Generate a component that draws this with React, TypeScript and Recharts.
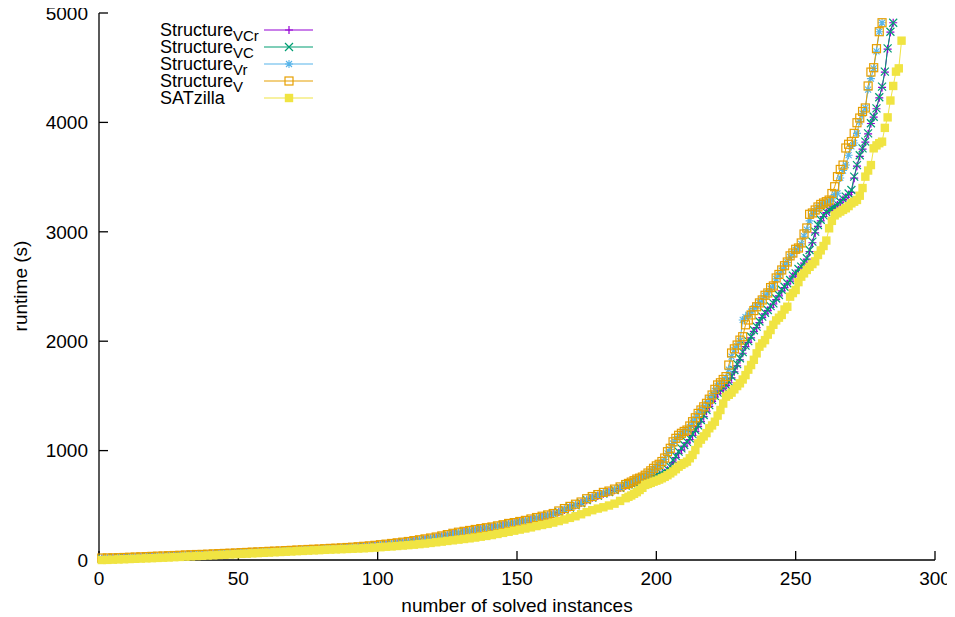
import React from 'react';
import { LineChart, Line, XAxis, YAxis, Legend } from 'recharts';

// x categories: instance numbers (every 2nd instance in the dense low part, every instance above 190)
const lowInstances: number[] = Array.from({ length: 95 }, (_, i) => 2 * i + 1);
const highInstances: number[] = Array.from({ length: 99 }, (_, i) => 190 + i);
const instances: number[] = [...lowInstances, ...highInstances];

const xTicks = [0, 50, 100, 150, 200, 250, 300];
const yTicks = [0, 1000, 2000, 3000, 4000, 5000];

// Structure_VCr
const vcrLow = [12,13,15,17,18,20,22,24,26,28,30,32,34,36,38,40,43,45,47,49,51,53,55,57,59,62,64,66,69,71,74,76,78,81,83,85,88,91,93,96,98,101,104,107,110,113,116,120,124,129,134,140,146,152,158,164,172,180,188,196,205,214,225,238,248,256,264,273,281,289,297,307,317,328,337,347,357,369,382,394,406,419,436,458,480,500,520,546,568,586,606,620,638,658,678];
const vcrHigh = [688,698,705,712,720,726,732,740,748,756,765,772,782,798,820,845,890,935,975,1005,1040,1070,1100,1140,1175,1220,1265,1310,1360,1405,1450,1490,1520,1548,1570,1595,1620,1665,1720,1775,1830,1890,1950,1990,2030,2090,2125,2170,2215,2250,2280,2310,2340,2380,2415,2460,2490,2525,2550,2595,2615,2650,2675,2715,2750,2820,2900,2990,3050,3100,3140,3175,3195,3210,3225,3245,3270,3295,3315,3340,3360,3490,3600,3690,3755,3820,3895,3990,4048,4125,4225,4320,4460,4670,4825,4911];

// Structure_VC
const vcLow = [12,14,15,17,19,20,22,24,26,28,30,32,34,36,38,41,43,45,47,49,51,53,55,57,59,62,64,67,69,71,74,76,78,81,83,86,88,91,93,96,98,101,104,107,110,113,116,120,124,129,135,140,146,152,158,164,172,180,188,196,205,214,226,238,248,256,264,273,281,289,297,307,317,328,337,347,357,369,382,394,406,419,438,460,480,500,520,548,570,588,608,622,640,660,680];
const vcHigh = [690,700,708,716,722,728,735,745,752,760,770,777,790,807,830,853,914,950,990,1020,1051,1080,1112,1150,1188,1230,1280,1325,1371,1415,1462,1500,1530,1555,1575,1600,1630,1680,1737,1790,1844,1900,1960,2000,2041,2100,2133,2180,2224,2260,2285,2320,2346,2390,2422,2470,2498,2530,2559,2600,2620,2660,2681,2720,2758,2834,2910,3001,3062,3110,3150,3180,3199,3215,3229,3250,3275,3300,3321,3350,3382,3504,3610,3700,3763,3824,3900,3992,4052,4128,4230,4327,4464,4677,4829,4911];

// Structure_Vr
const vrLow = [14,16,17,19,21,22,24,26,28,30,32,34,36,38,40,43,45,47,49,51,53,55,57,59,61,64,66,69,71,73,76,78,80,83,85,88,90,93,95,98,100,103,106,109,112,115,118,122,126,131,137,142,148,154,160,166,174,182,190,198,207,216,228,240,250,258,266,275,283,291,299,309,319,330,339,349,359,371,384,396,408,421,442,465,485,505,525,552,574,592,612,626,644,664,686];
const vrHigh = [698,710,722,736,745,755,770,790,808,830,850,868,890,920,975,1010,1065,1100,1130,1150,1170,1185,1215,1255,1290,1330,1365,1395,1428,1465,1500,1545,1590,1612,1640,1668,1740,1860,1920,1955,2000,2194,2220,2240,2270,2300,2320,2350,2377,2415,2441,2480,2505,2570,2605,2645,2685,2720,2770,2800,2835,2850,2890,2960,3020,3100,3165,3190,3220,3240,3255,3268,3280,3300,3340,3352,3492,3560,3610,3700,3780,3812,3900,4010,4080,4132,4300,4400,4494,4650,4829,4911];

// Structure_V
const vLow = [18,19,20,21,23,25,27,29,31,33,35,37,39,41,43,46,48,50,51,53,56,58,60,62,64,67,69,72,74,76,79,81,83,86,88,91,93,96,98,100,103,106,108,111,114,117,121,125,129,134,140,145,151,157,163,169,177,185,193,201,210,220,232,244,254,262,270,279,287,295,302,312,322,334,342,352,362,375,388,400,412,425,448,470,490,510,530,560,580,598,618,630,648,668,690];
const vHigh = [700,712,725,740,748,758,775,795,815,838,860,875,900,932,990,1021,1080,1112,1140,1158,1175,1188,1225,1264,1300,1340,1371,1400,1432,1470,1508,1560,1600,1620,1650,1676,1782,1892,1930,1965,2010,2041,2150,2194,2240,2280,2315,2350,2377,2420,2441,2490,2505,2578,2610,2651,2690,2724,2780,2806,2840,2852,2898,2980,3035,3160,3172,3199,3227,3250,3263,3275,3290,3350,3412,3504,3570,3610,3766,3800,3824,3900,3997,4040,4100,4132,4333,4460,4500,4674,4829,4911];

// SATzilla
const satLow = [0,1,3,5,7,9,11,13,15,17,19,21,23,26,28,31,33,36,38,41,43,46,48,51,53,56,58,61,63,66,68,71,73,76,78,81,83,86,88,90,93,95,97,99,101,103,105,107,110,113,117,121,124,128,132,136,140,145,150,156,162,168,174,180,186,192,198,205,213,220,228,238,248,258,268,278,288,298,310,320,330,342,356,370,385,400,418,438,455,470,482,498,515,540,565];
const satHigh = [578,590,605,620,640,660,686,695,705,716,725,735,747,760,775,792,810,830,853,870,885,899,930,960,1005,1066,1100,1130,1160,1204,1230,1264,1320,1371,1430,1493,1510,1530,1560,1590,1615,1650,1690,1740,1782,1830,1889,1950,1980,2010,2060,2102,2150,2190,2215,2240,2290,2315,2407,2440,2468,2540,2590,2620,2651,2680,2705,2730,2788,2830,2870,2920,3032,3100,3150,3169,3185,3200,3215,3235,3260,3275,3291,3330,3400,3504,3560,3610,3763,3790,3810,3824,3950,4046,4200,4333,4464,4494,4747];

type Marker = 'plus' | 'cross' | 'star' | 'box' | 'fbox';
interface SeriesDef { key: string; main: string; sub: string; color: string; marker: Marker; values: number[]; }

const series: SeriesDef[] = [
  { key: 'vcr', main: 'Structure', sub: 'VCr', color: '#9400d3', marker: 'plus', values: [...vcrLow, ...vcrHigh] },
  { key: 'vc', main: 'Structure', sub: 'VC', color: '#009e73', marker: 'cross', values: [...vcLow, ...vcHigh] },
  { key: 'vr', main: 'Structure', sub: 'Vr', color: '#56b4e9', marker: 'star', values: [...vrLow, ...vrHigh] },
  { key: 'v', main: 'Structure', sub: 'V', color: '#e69f00', marker: 'box', values: [...vLow, ...vHigh] },
  { key: 'sat', main: 'SATzilla', sub: '', color: '#f0e442', marker: 'fbox', values: [...satLow, ...satHigh] },
];

const data = instances.map((n, i) => {
  const row: Record<string, number | null> = { n };
  series.forEach((s) => {
    const v = s.values[i];
    row[s.key] = v === undefined ? null : v;
  });
  return row;
});

const FONT = '"Liberation Sans", Arial, Helvetica, sans-serif';

function markerShape(marker: Marker, color: string, cx: number, cy: number, key?: React.Key) {
  const s = 4;
  switch (marker) {
    case 'plus':
      return <path key={key} d={`M${cx - s},${cy}H${cx + s}M${cx},${cy - s}V${cy + s}`} stroke={color} strokeWidth={1.2} fill="none" />;
    case 'cross':
      return <path key={key} d={`M${cx - s},${cy - s}L${cx + s},${cy + s}M${cx - s},${cy + s}L${cx + s},${cy - s}`} stroke={color} strokeWidth={1.2} fill="none" />;
    case 'star':
      return <path key={key} d={`M${cx - s},${cy}H${cx + s}M${cx},${cy - s}V${cy + s}M${cx - 3},${cy - 3}L${cx + 3},${cy + 3}M${cx - 3},${cy + 3}L${cx + 3},${cy - 3}`} stroke={color} strokeWidth={1.1} fill="none" />;
    case 'box':
      return <rect key={key} x={cx - 4} y={cy - 4} width={8} height={8} stroke={color} strokeWidth={1.2} fill="none" />;
    default:
      return <rect key={key} x={cx - 4.2} y={cy - 4.2} width={8.4} height={8.4} fill={color} stroke="none" />;
  }
}

function makeDot(marker: Marker, color: string) {
  return (props: any) => {
    const { cx, cy, index } = props;
    if (cx == null || cy == null || Number.isNaN(cx) || Number.isNaN(cy)) return <g key={`e${index}`} />;
    return markerShape(marker, color, cx, cy, `d${index}`);
  };
}

const renderLegend = () => (
  <svg width={330} height={110} style={{ display: 'block', overflow: 'visible' }}>
    {series.map((s, i) => {
      const y = 22 + 17 * i;
      return (
        <g key={s.key}>
          <text x={152} y={y + 6} fontFamily={FONT} fontSize={18} fill="#000">
            {s.main}
            {s.sub ? <tspan fontSize={15} dy={5}>{s.sub}</tspan> : null}
          </text>
          <line x1={256} x2={305} y1={y} y2={y} stroke={s.color} strokeWidth={1.2} />
          {markerShape(s.marker, s.color, 281, y)}
        </g>
      );
    })}
  </svg>
);

const XTitle = () => (
  <text x={509} y={597} textAnchor="middle" dominantBaseline="central" fontFamily={FONT} fontSize={19} fill="#000">
    number of solved instances
  </text>
);

const YTitle = () => (
  <text x={12} y={278} transform="rotate(-90 12 278)" textAnchor="middle" dominantBaseline="central" fontFamily={FONT} fontSize={19} fill="#000">
    runtime (s)
  </text>
);

export default function App() {
  const tickStyle = { fontFamily: FONT, fontSize: 19, fill: '#000' };
  return (
    <div style={{ width: 947, height: 609 }}>
      <LineChart width={947} height={609} data={data} margin={{ top: 5, right: 20, bottom: 12, left: 31 }}>
        <XAxis
          dataKey="n"
          type="number"
          domain={[0, 300]}
          ticks={xTicks}
          interval={0}
          height={45}
          tickSize={-9}
          tickMargin={21}
          tick={tickStyle}
          stroke="#000"
          strokeWidth={1.3}
          label={<XTitle />}
        />
        <XAxis
          xAxisId="top"
          orientation="top"
          dataKey="n"
          type="number"
          domain={[0, 300]}
          ticks={xTicks}
          interval={0}
          height={0}
          tickSize={-9}
          tick={false}
          stroke="#000"
          strokeWidth={1.3}
        />
        <YAxis
          type="number"
          domain={[0, 5000]}
          ticks={yTicks}
          interval={0}
          width={60}
          tickSize={-9}
          tickMargin={20}
          tick={tickStyle}
          stroke="#000"
          strokeWidth={1.3}
          label={<YTitle />}
        />
        <YAxis
          yAxisId="right"
          orientation="right"
          type="number"
          domain={[0, 5000]}
          ticks={yTicks}
          interval={0}
          width={0}
          tickSize={-9}
          tick={false}
          stroke="#000"
          strokeWidth={1.3}
        />
        <Legend
          content={renderLegend}
          layout="horizontal"
          verticalAlign="middle"
          align="center"
          wrapperStyle={{ position: 'absolute', left: 0, top: 0, width: 330, height: 110 }}
        />
        {series.map((s) => (
          <Line
            key={s.key}
            dataKey={s.key}
            name={s.main + s.sub}
            stroke={s.color}
            strokeWidth={1}
            type="linear"
            dot={makeDot(s.marker, s.color)}
            activeDot={false}
            isAnimationActive={false}
            connectNulls={false}
          />
        ))}
      </LineChart>
    </div>
  );
}
